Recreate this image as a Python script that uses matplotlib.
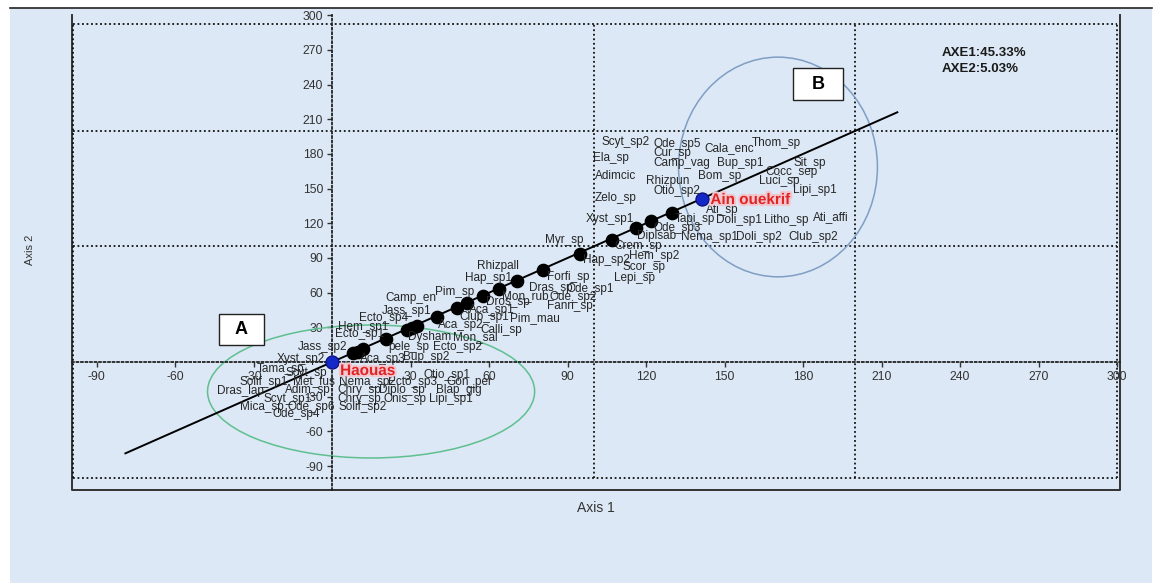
import matplotlib.pyplot as plt
from matplotlib.patches import Ellipse, Rectangle
from matplotlib.lines import Line2D
import matplotlib.patheffects as pe

plt.rcParams['font.family'] = ['Liberation Sans', 'DejaVu Sans']
plt.rcParams['axes.unicode_minus'] = False

# site scores (blue points)
sites = ['Haouas', 'Ain ouekrif']
site_x = [0.0, 141.5]
site_y = [0.0, 141.0]

# species scores lying on the gradient line (black points)
dot_x = [8.0, 9.9, 11.8, 20.6, 28.7, 30.6, 32.5, 40.1, 47.8, 51.6,
         57.7, 63.8, 70.7, 80.6, 94.8, 107.0, 116.2, 121.9, 129.9]
dot_y = [7.8, 9.0, 11.2, 19.9, 27.7, 29.4, 31.2, 38.9, 46.7, 51.0,
         57.1, 63.1, 70.1, 79.6, 93.4, 105.5, 115.9, 122.0, 128.9]

# gradient line ends
line_x = [-79, 216]
line_y = [-79, 216]

# species labels
sp_names = ['Jass_sp2', 'Xyst_sp2', 'Tama_sp', 'Scyt_sp', 'Solif_sp1', 'Met_fus',
            'Nema_sp2', 'Ecto_sp3', 'Gon_per', 'Otio_sp1', 'Dras_lap', 'Adim_sp',
            'Chry_sp', 'Diplo_sp', 'Blap_gig', 'Scyt_sp1', 'Chry_sp', 'Onis_sp',
            'Lipi_sp1', 'Mica_sp', 'Ode_sp6', 'Solif_sp2', 'Ode_sp4',
            'Aca_sp3', 'Bup_sp2', 'pele_sp', 'Ecto_sp2', 'Dysham', 'Mon_sal',
            'Ecto_sp1', 'Hem_sp1', 'Ecto_sp4', 'Aca_sp2', 'Club_sp1', 'Calli_sp',
            'Jass_sp1', 'Aca_sp1', 'Camp_en', 'Pim_sp', 'Pim_mau', 'Dros_sp',
            'Mon_rub', 'Hap_sp1', 'Rhizpall', 'Dras_sp', 'Ode_sp1', 'Ode_sp2',
            'Forfi_sp', 'Fanri_sp', 'Myr_sp', 'Hap_sp2',
            'Scyt_sp2', 'Ode_sp5', 'Cur_sp', 'Cala_enc', 'Thom_sp', 'Ela_sp',
            'Camp_vag', 'Bup_sp1', 'Sit_sp', 'Cocc_sep', 'Adimcic', 'Rhizpun',
            'Bom_sp', 'Luci_sp', 'Otio_sp2', 'Lipi_sp1', 'Zelo_sp', 'Ati_sp',
            'Xyst_sp1', 'Tapi_sp', 'Doli_sp1', 'Litho_sp', 'Ati_affi', 'Ode_sp3',
            'Diplsab', 'Nema_sp1', 'Doli_sp2', 'Club_sp2', 'Crem_sp', 'Hem_sp2',
            'Scor_sp', 'Lepi_sp']
sp_x = [-13.0, -21.0, -28.7, -18.0, -35.5, -14.9,
        2.7, 21.4, 43.6, 34.8, -43.9, -18.0,
        1.9, 18.0, 39.7, -26.4, 1.9, 19.5,
        37.1, -35.2, -17.2, 2.3, -22.9,
        10.7, 27.1, 21.4, 38.6, 29.0, 46.2,
        1.1, 2.3, 10.3, 40.5, 48.5, 56.6,
        19.1, 52.4, 20.3, 39.4, 68.0, 58.8,
        65.0, 50.8, 55.4, 75.3, 89.4, 82.9,
        82.2, 82.2, 81.4, 95.9,
        102.8, 122.7, 122.7, 142.1, 160.5, 99.7,
        122.7, 147.1, 176.2, 165.5, 100.5, 120.0,
        139.9, 163.2, 122.7, 176.2, 100.5, 142.9,
        97.1, 131.1, 146.7, 165.1, 183.8, 122.7,
        116.5, 133.4, 154.4, 174.2, 107.8, 113.5,
        110.8, 107.8]
sp_y = [13.0, 2.6, -6.1, -9.5, -17.3, -16.4,
        -17.3, -17.3, -17.3, -11.2, -25.1, -24.2,
        -24.2, -24.2, -24.2, -32.0, -32.0, -32.0,
        -32.0, -38.9, -38.9, -38.9, -45.0,
        2.6, 4.3, 13.0, 13.0, 21.6, 21.6,
        24.2, 30.3, 38.1, 32.0, 38.9, 27.7,
        44.1, 45.0, 55.4, 60.6, 38.1, 51.9,
        57.1, 72.7, 83.0, 64.0, 63.1, 56.2,
        73.5, 48.4, 105.5, 88.2,
        190.3, 188.6, 180.8, 185.1, 189.4, 176.5,
        172.1, 172.1, 172.1, 164.4, 160.9, 156.6,
        160.9, 156.6, 147.9, 148.8, 141.9, 131.5,
        123.7, 123.7, 122.8, 122.8, 125.4, 115.9,
        109.0, 108.1, 108.1, 108.1, 100.3, 91.7,
        82.2, 72.7]

# group ellipses: (centre x, centre y, width, height, colour)
groups = ['A', 'B']
grp_cx = [14.9, 170.4]
grp_cy = [-25.5, 168.7]
grp_w = [125, 76]
grp_h = [115, 190]
grp_col = ['#5fbf8f', '#7f9ec4']

inertia = ['AXE1:45.33%', 'AXE2:5.03%']

xticks = [-90, -60, -30, 30, 60, 90, 120, 150, 180, 210, 240, 270, 300]
yticks = [-90, -60, -30, 30, 60, 90, 120, 150, 180, 210, 240, 270, 300]

bg = '#dce8f5'
W, H = 1161, 583
fig = plt.figure(figsize=(W / 100, H / 100), dpi=100, facecolor='white')

# panel background and its top border
fig.patches.append(Rectangle((10 / W, 0), 1142 / W, 1 - 8 / H, transform=fig.transFigure,
                             facecolor=bg, edgecolor='none', zorder=-5))
fig.add_artist(Line2D([10 / W, 1152 / W], [1 - 8 / H, 1 - 8 / H], color='#222222', lw=1.2))

ax = fig.add_axes([72 / W, 1 - 490 / H, (1120 - 72) / W, (490 - 8) / H])
ax.set_facecolor(bg)
ax.set_xlim(-99.4, 301.1)
ax.set_ylim(-110.7, 306.2)

# axes cross at zero
for s in ['top', 'right']:
    ax.spines[s].set_visible(False)
ax.spines['left'].set_position(('data', 0))
ax.spines['bottom'].set_position(('data', 0))
for s in ['left', 'bottom']:
    ax.spines[s].set_linestyle((0, (1, 1.5)))
    ax.spines[s].set_linewidth(1.3)
    ax.spines[s].set_color('#222222')
ax.spines['left'].set_bounds(-110.7, 300)

# solid frame on left, bottom, right
ax.plot([0, 0, 1, 1], [0.985, 0, 0, 0.985], transform=ax.transAxes, color='#333333',
        lw=1.4, clip_on=False, zorder=1)

# dotted grid box
dot = dict(color='#111111', lw=1.3, linestyle=(0, (1, 1.5)), zorder=1)
for gx in [-99, 100, 200, 300]:
    ax.plot([gx, gx], [-100, 292], **dot)
for gy in [-100, 100, 200, 292]:
    ax.plot([-99, 300], [gy, gy], **dot)

ax.set_xticks(xticks)
ax.set_yticks(yticks)
ax.tick_params(direction='out', length=3.5, width=1, color='#333333',
               labelsize=8.7, labelcolor='#333333', pad=3)

# group ellipses
for cx, cy, w, h, c in zip(grp_cx, grp_cy, grp_w, grp_h, grp_col):
    ax.add_patch(Ellipse((cx, cy), w, h, fill=False, edgecolor=c, lw=1.1, zorder=2))

ax.plot(line_x, line_y, color='black', lw=1.4, zorder=3)
ax.scatter(dot_x, dot_y, s=78, color='black', zorder=4)
ax.scatter(site_x, site_y, s=90, color='#1428c8', edgecolors='#0a0a70', lw=0.8, zorder=5)

for name, x, y in zip(sp_names, sp_x, sp_y):
    ax.text(x, y, name, fontsize=8.5, color='#262626', ha='left', va='center', zorder=6)

halo = [pe.withStroke(linewidth=3, foreground='#f2c6ce')]
for name, x, y, dy in zip(sites, site_x, site_y, [-9, -1]):
    ax.annotate(name, (x, y), xytext=(8, dy), textcoords='offset pixels',
                fontsize=11, fontweight='bold', color='#e02424', ha='left', va='center',
                path_effects=halo, zorder=7)

ax.text(233.1, 267.3, inertia[0], fontsize=9.5, fontweight='bold', color='#1a1a1a',
        ha='left', va='center')
ax.text(233.1, 253.5, inertia[1], fontsize=9.5, fontweight='bold', color='#1a1a1a',
        ha='left', va='center')

# group letter boxes
box_pos = [(219, 314, 45, 31), (793, 68, 50, 32)]
for g, (bx, by, bw, bh) in zip(groups, box_pos):
    fig.patches.append(Rectangle((bx / W, 1 - (by + bh) / H), bw / W, bh / H,
                                 transform=fig.transFigure, facecolor='white',
                                 edgecolor='#222222', lw=1, zorder=8))
    fig.text((bx + bw / 2) / W, 1 - (by + bh / 2) / H, g, fontsize=13, fontweight='bold',
             ha='center', va='center', zorder=9)

fig.text(596 / W, 1 - 508 / H, 'Axis 1', fontsize=10, color='#333333', ha='center', va='center')
fig.text(30 / W, 1 - 250 / H, 'Axis 2', fontsize=8, color='#333333', ha='center', va='center',
         rotation=90)

fig.savefig('out.png', dpi=100, facecolor=fig.get_facecolor())
